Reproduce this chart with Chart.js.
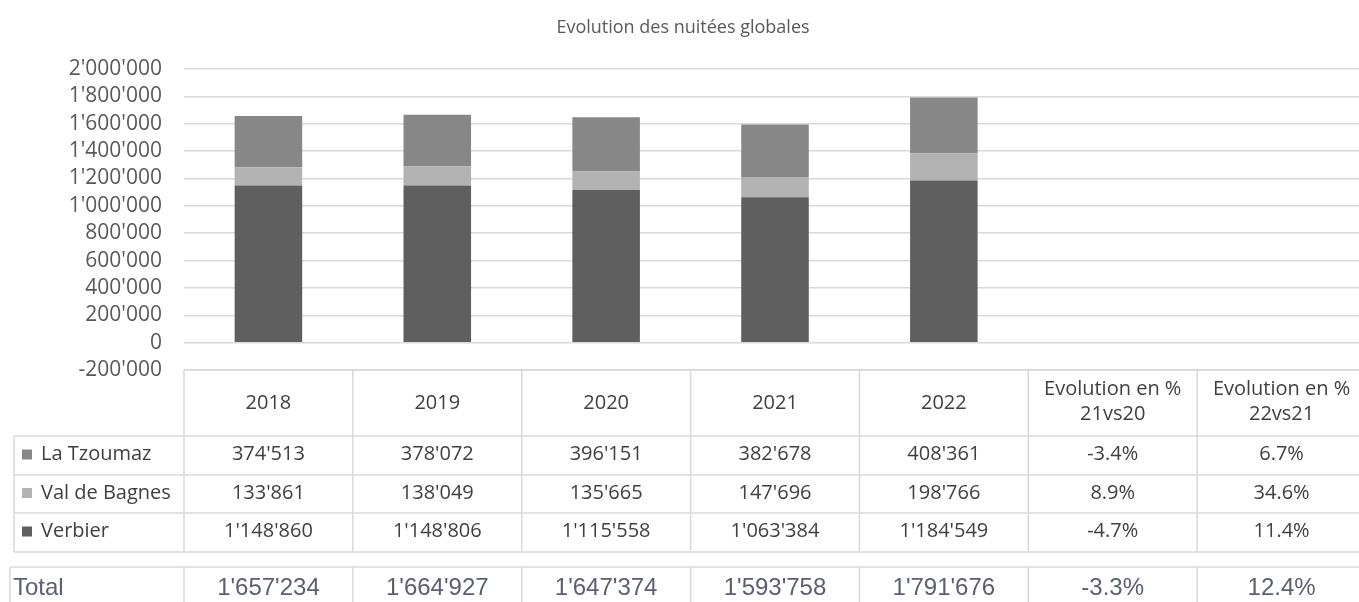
<!DOCTYPE html>
<html>
<head>
<meta charset="utf-8">
<script src="https://cdn.jsdelivr.net/npm/chart.js@4.4.1/dist/chart.umd.min.js"></script>
<style>
  html, body { margin: 0; padding: 0; background: #fff; overflow: hidden; }
  #wrap { width: 1366px; height: 602px; position: relative; }
</style>
</head>
<body>
<div id="wrap"><canvas id="chart1"></canvas></div>
<script>
// Chart Data
const categories = ['2018', '2019', '2020', '2021', '2022', ['Evolution en %', '21vs20'], ['Evolution en %', '22vs21']];
const tzoumaz = [374513, 378072, 396151, 382678, 408361];
const valBagnes = [133861, 138049, 135665, 147696, 198766];
const verbier = [1148860, 1148806, 1115558, 1063384, 1184549];
const totals = [1657234, 1664927, 1647374, 1593758, 1791676];
const tzoumazEvo = [-3.4, 6.7];
const valBagnesEvo = [8.9, 34.6];
const verbierEvo = [-4.7, 11.4];
const totalEvo = [-3.3, 12.4];
const yTicks = [-200000, 0, 200000, 400000, 600000, 800000, 1000000, 1200000, 1400000, 1600000, 1800000, 2000000];

const colTzoumaz = '#878787';
const colBagnes = '#b2b2b2';
const colVerbier = '#5f5f5f';
const lineCol = '#d9d9d9';

function fmt(n) {
    return String(n).replace(/\B(?=(\d{3})+(?!\d))/g, "'");
}
function pct(v) {
    return v.toFixed(1) + '%';
}

// data table under the bars, placed with the x scale
const tablePlugin = {
    id: 'dataTable',
    afterDraw(chart) {
        const c = chart.ctx;
        const x = chart.scales.x;
        const n = categories.length;
        const half = (x.right - x.left) / n / 2;
        const edges = [];
        for (let i = 0; i <= n; i++) edges.push(x.left + i * half * 2);

        const top = 370, r1 = 436, r2 = 475, r3 = 513, r4 = 552;
        const tTop = 567, tBot = 610;
        c.save();
        c.strokeStyle = lineCol;
        c.lineWidth = 1.5;
        c.beginPath();
        c.moveTo(x.left, top); c.lineTo(x.right, top);
        [r1, r2, r3, r4].forEach(y => { c.moveTo(14, y); c.lineTo(x.right, y); });
        c.moveTo(14, r1); c.lineTo(14, r4);
        edges.forEach(ex => { c.moveTo(ex, top); c.lineTo(ex, r4); });
        c.moveTo(10, tTop); c.lineTo(x.right, tTop);
        c.moveTo(10, tTop); c.lineTo(10, tBot);
        edges.forEach(ex => { c.moveTo(ex, tTop); c.lineTo(ex, tBot); });
        c.stroke();

        c.fillStyle = '#404040';
        c.font = '20px "Open Sans"';
        c.textAlign = 'center';
        c.textBaseline = 'middle';
        categories.forEach((lab, i) => {
            const cx = x.getPixelForValue(i);
            if (Array.isArray(lab)) {
                c.fillText(lab[0], cx, 389);
                c.fillText(lab[1], cx, 414);
            } else {
                c.fillText(lab, cx, 403);
            }
        });

        const rows = [
            ['La Tzoumaz', colTzoumaz, tzoumaz, tzoumazEvo, (r1 + r2) / 2],
            ['Val de Bagnes', colBagnes, valBagnes, valBagnesEvo, (r2 + r3) / 2],
            ['Verbier', colVerbier, verbier, verbierEvo, (r3 + r4) / 2]
        ];
        rows.forEach(([name, col, vals, evo, cy]) => {
            c.fillStyle = col;
            c.fillRect(22, cy - 6, 10, 10);
            c.fillStyle = '#404040';
            c.textAlign = 'left';
            c.fillText(name, 41, cy - 1);
            c.textAlign = 'center';
            vals.forEach((v, i) => c.fillText(fmt(v), x.getPixelForValue(i), cy - 1));
            evo.forEach((v, j) => c.fillText(pct(v), x.getPixelForValue(vals.length + j), cy - 1));
        });

        c.fillStyle = '#5b6070';
        c.font = '24px "Liberation Sans"';
        c.textAlign = 'left';
        c.fillText('Total', 13, 588);
        c.textAlign = 'center';
        totals.forEach((v, i) => c.fillText(fmt(v), x.getPixelForValue(i), 588));
        totalEvo.forEach((v, j) => c.fillText(pct(v), x.getPixelForValue(totals.length + j), 588));
        c.restore();
    }
};

const ctx = document.getElementById('chart1').getContext('2d');
const chart1 = new Chart(ctx, {
    type: 'bar',
    data: {
        labels: categories,
        datasets: [
            { label: 'Verbier', data: verbier, backgroundColor: colVerbier },
            { label: 'Val de Bagnes', data: valBagnes, backgroundColor: colBagnes },
            { label: 'La Tzoumaz', data: tzoumaz, backgroundColor: colTzoumaz }
        ],
    },
    options: {
        responsive: true,
        maintainAspectRatio: false,
        animation: false,
        categoryPercentage: 1,
        barPercentage: 0.4,
        layout: { padding: { left: 0, right: 0, top: 0, bottom: 232 } },
        plugins: {
            legend: { display: false },
            tooltip: { enabled: false },
            title: {
                display: true,
                text: 'Evolution des nuitées globales',
                color: '#595959',
                font: { family: 'Open Sans', size: 18, weight: 'normal' },
                padding: { top: 17, bottom: 30.4 }
            }
        },
        scales: {
            x: { stacked: true, display: false },
            y: {
                stacked: true,
                min: yTicks[0],
                max: yTicks[yTicks.length - 1],
                afterFit(scale) { scale.width = 184; },
                border: { display: false },
                grid: { color: lineCol, lineWidth: 1.5, drawTicks: false },
                ticks: {
                    stepSize: 200000,
                    autoSkip: false,
                    padding: 22,
                    color: '#595959',
                    font: { family: 'Open Sans', size: 21 },
                    callback: v => fmt(v)
                }
            }
        }
    },
    plugins: [tablePlugin]
});
</script>
</body>
</html>
